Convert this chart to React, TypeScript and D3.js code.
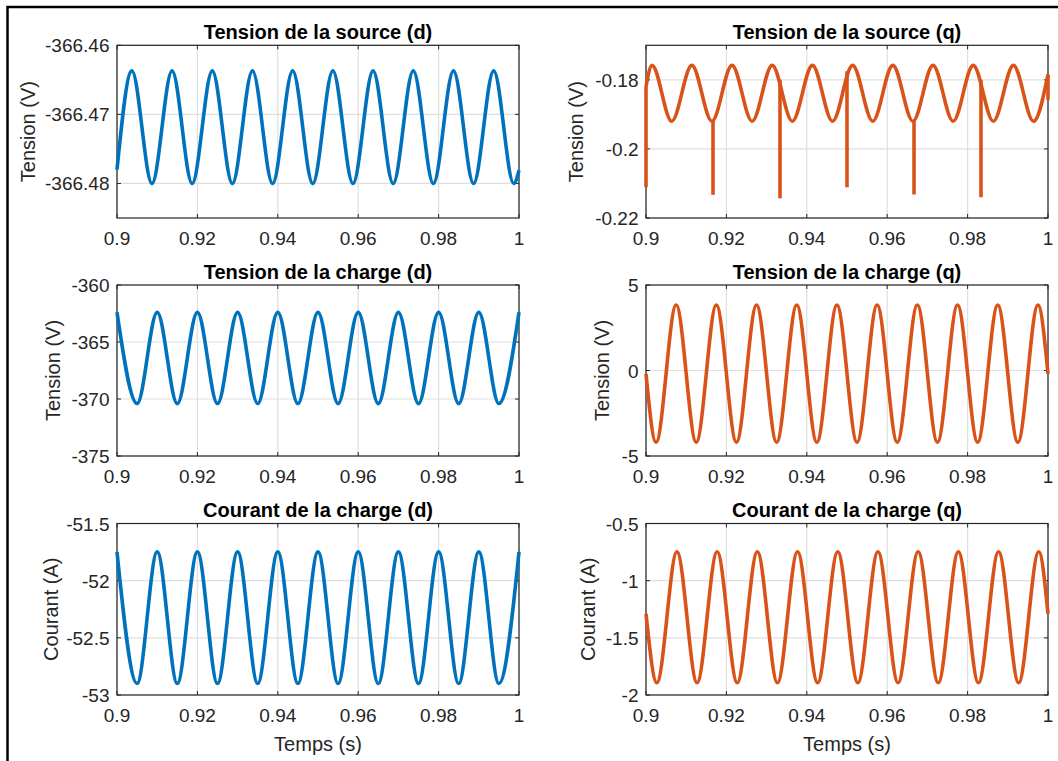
import React from 'react';
import * as d3 from 'd3';

// ---------- data ----------
const xTicks = [0.9, 0.92, 0.94, 0.96, 0.98, 1];
const xTickLabels = ['0.9', '0.92', '0.94', '0.96', '0.98', '1'];

// Tension de la source (d): extrema
const srcDTimes = [0.9, 0.9037, 0.9087, 0.9137, 0.9187, 0.9237, 0.9287, 0.9337, 0.9387, 0.9437, 0.9487, 0.9537, 0.9587, 0.9637, 0.9687, 0.9737, 0.9787, 0.9837, 0.9887, 0.9937, 0.9987, 1.0];
const srcDValues = [-366.4780, -366.4637, -366.4800, -366.4637, -366.4800, -366.4637, -366.4800, -366.4637, -366.4800, -366.4637, -366.4800, -366.4637, -366.4800, -366.4637, -366.4800, -366.4637, -366.4800, -366.4637, -366.4800, -366.4637, -366.4800, -366.4781];
const srcDTicks = [-366.48, -366.47, -366.46];
const srcDTickLabels = ['-366.48', '-366.47', '-366.46'];

// Tension de la source (q): extrema + spikes
const srcQTimes = [0.9, 0.9015, 0.9064, 0.9114, 0.9164, 0.9214, 0.9264, 0.9314, 0.9364, 0.9414, 0.9464, 0.9514, 0.9564, 0.9614, 0.9664, 0.9714, 0.9764, 0.9814, 0.9864, 0.9914, 0.9964, 1.0];
const srcQValues = [-0.1820, -0.1758, -0.1920, -0.1758, -0.1920, -0.1758, -0.1920, -0.1758, -0.1920, -0.1758, -0.1920, -0.1758, -0.1920, -0.1758, -0.1920, -0.1758, -0.1920, -0.1758, -0.1920, -0.1758, -0.1920, -0.1785];
const srcQSpikeTimes = [0.9, 0.91667, 0.93333, 0.95, 0.96667, 0.98333, 1.0];
const srcQSpikeTops = [-0.1820, -0.1915, -0.1800, -0.1775, -0.1918, -0.1800, -0.1785];
const srcQSpikeBottoms = [-0.2111, -0.2133, -0.2143, -0.2111, -0.2132, -0.2140, -0.1858];
const srcQTicks = [-0.22, -0.2, -0.18];
const srcQTickLabels = ['-0.22', '-0.2', '-0.18'];

// Tension de la charge (d)
const chgDTimes = [0.9, 0.905, 0.91, 0.915, 0.92, 0.925, 0.93, 0.935, 0.94, 0.945, 0.95, 0.955, 0.96, 0.965, 0.97, 0.975, 0.98, 0.985, 0.99, 0.995, 1.0];
const chgDValues = [-362.4, -370.4, -362.4, -370.4, -362.4, -370.4, -362.4, -370.4, -362.4, -370.4, -362.4, -370.4, -362.4, -370.4, -362.4, -370.4, -362.4, -370.4, -362.4, -370.4, -362.4];
const chgDTicks = [-375, -370, -365, -360];
const chgDTickLabels = ['-375', '-370', '-365', '-360'];

// Tension de la charge (q)
const chgQTimes = [0.9, 0.9025, 0.9075, 0.9125, 0.9175, 0.9225, 0.9275, 0.9325, 0.9375, 0.9425, 0.9475, 0.9525, 0.9575, 0.9625, 0.9675, 0.9725, 0.9775, 0.9825, 0.9875, 0.9925, 0.9975, 1.0];
const chgQValues = [-0.2, -4.2, 3.83, -4.2, 3.83, -4.2, 3.83, -4.2, 3.83, -4.2, 3.83, -4.2, 3.83, -4.2, 3.83, -4.2, 3.83, -4.2, 3.83, -4.2, 3.83, -0.2];
const chgQTicks = [-5, 0, 5];
const chgQTickLabels = ['-5', '0', '5'];

// Courant de la charge (d)
const curDTimes = [0.9, 0.905, 0.91, 0.915, 0.92, 0.925, 0.93, 0.935, 0.94, 0.945, 0.95, 0.955, 0.96, 0.965, 0.97, 0.975, 0.98, 0.985, 0.99, 0.995, 1.0];
const curDValues = [-51.748, -52.899, -51.748, -52.899, -51.748, -52.899, -51.748, -52.899, -51.748, -52.899, -51.748, -52.899, -51.748, -52.899, -51.748, -52.899, -51.748, -52.899, -51.748, -52.899, -51.748];
const curDTicks = [-53, -52.5, -52, -51.5];
const curDTickLabels = ['-53', '-52.5', '-52', '-51.5'];

// Courant de la charge (q)
const curQTimes = [0.9, 0.9027, 0.9077, 0.9127, 0.9177, 0.9227, 0.9277, 0.9327, 0.9377, 0.9427, 0.9477, 0.9527, 0.9577, 0.9627, 0.9677, 0.9727, 0.9777, 0.9827, 0.9877, 0.9927, 0.9977, 1.0];
const curQValues = [-1.289, -1.893, -0.747, -1.893, -0.747, -1.893, -0.747, -1.893, -0.747, -1.893, -0.747, -1.893, -0.747, -1.893, -0.747, -1.893, -0.747, -1.893, -0.747, -1.893, -0.747, -1.289];
const curQTicks = [-2, -1.5, -1, -0.5];
const curQTickLabels = ['-2', '-1.5', '-1', '-0.5'];

// ---------- layout / style ----------
const BLUE = '#0072BD';
const ORANGE = '#D95319';
const AXIS = '#262626';
const GRID = '#dfdfdf';
const FONT = '"Liberation Sans", Arial, Helvetica, sans-serif';

type Panel = {
  title: string;
  ylabel: string;
  xlabel?: string;
  times: number[];
  values: number[];
  domain: [number, number];
  ticks: number[];
  tickLabels: string[];
  color: string;
  x0: number; x1: number; y0: number; y1: number;
  ylabelX: number;
  spikes?: { t: number[]; top: number[]; bottom: number[] };
};

const COL_L: [number, number] = [117, 519];
const COL_R: [number, number] = [646, 1048];
const ROWS: [number, number][] = [[45.3, 218], [285, 456], [523.5, 695]];

const panels: Panel[] = [
  { title: 'Tension de la source (d)', ylabel: 'Tension (V)', times: srcDTimes, values: srcDValues, domain: [-366.485, -366.46], ticks: srcDTicks, tickLabels: srcDTickLabels, color: BLUE, x0: COL_L[0], x1: COL_L[1], y0: ROWS[0][0], y1: ROWS[0][1], ylabelX: 34.5 },
  { title: 'Tension de la source (q)', ylabel: 'Tension (V)', times: srcQTimes, values: srcQValues, domain: [-0.22, -0.17], ticks: srcQTicks, tickLabels: srcQTickLabels, color: ORANGE, x0: COL_R[0], x1: COL_R[1], y0: ROWS[0][0], y1: ROWS[0][1], ylabelX: 583, spikes: { t: srcQSpikeTimes, top: srcQSpikeTops, bottom: srcQSpikeBottoms } },
  { title: 'Tension de la charge (d)', ylabel: 'Tension (V)', times: chgDTimes, values: chgDValues, domain: [-375, -360], ticks: chgDTicks, tickLabels: chgDTickLabels, color: BLUE, x0: COL_L[0], x1: COL_L[1], y0: ROWS[1][0], y1: ROWS[1][1], ylabelX: 59.5 },
  { title: 'Tension de la charge (q)', ylabel: 'Tension (V)', times: chgQTimes, values: chgQValues, domain: [-5, 5], ticks: chgQTicks, tickLabels: chgQTickLabels, color: ORANGE, x0: COL_R[0], x1: COL_R[1], y0: ROWS[1][0], y1: ROWS[1][1], ylabelX: 608.5 },
  { title: 'Courant de la charge (d)', ylabel: 'Courant (A)', xlabel: 'Temps (s)', times: curDTimes, values: curDValues, domain: [-53, -51.5], ticks: curDTicks, tickLabels: curDTickLabels, color: BLUE, x0: COL_L[0], x1: COL_L[1], y0: ROWS[2][0], y1: ROWS[2][1], ylabelX: 58 },
  { title: 'Courant de la charge (q)', ylabel: 'Courant (A)', xlabel: 'Temps (s)', times: curQTimes, values: curQValues, domain: [-2, -0.5], ticks: curQTicks, tickLabels: curQTickLabels, color: ORANGE, x0: COL_R[0], x1: COL_R[1], y0: ROWS[2][0], y1: ROWS[2][1], ylabelX: 595 },
];

const TICK_LEN = 4;
const LINE_W = 3.6;

function PanelView({ p }: { p: Panel }) {
  const x = d3.scaleLinear().domain([0.9, 1.0]).range([p.x0, p.x1]);
  const y = d3.scaleLinear().domain(p.domain).range([p.y1, p.y0]);
  const pts: [number, number][] = p.times.map((t, i) => [t, p.values[i]]);
  const line = d3.line<[number, number]>().x(d => x(d[0])).y(d => y(d[1])).curve(d3.curveMonotoneX);
  const seg = d3.line<[number, number]>().x(d => x(d[0])).y(d => y(d[1]));
  const cx = (p.x0 + p.x1) / 2;
  const cy = (p.y0 + p.y1) / 2;
  return (
    <g>
      {xTicks.map((t, i) => (
        <line key={'gx' + i} x1={x(t)} x2={x(t)} y1={p.y0} y2={p.y1} stroke={GRID} strokeWidth={1.2} />
      ))}
      {p.ticks.map((t, i) => (
        <line key={'gy' + i} x1={p.x0} x2={p.x1} y1={y(t)} y2={y(t)} stroke={GRID} strokeWidth={1.2} />
      ))}
      <rect x={p.x0} y={p.y0} width={p.x1 - p.x0} height={p.y1 - p.y0} fill="none" stroke={AXIS} strokeWidth={1.2} />
      {xTicks.map((t, i) => (
        <g key={'tx' + i}>
          <line x1={x(t)} x2={x(t)} y1={p.y1} y2={p.y1 - TICK_LEN} stroke={AXIS} strokeWidth={1} />
          <line x1={x(t)} x2={x(t)} y1={p.y0} y2={p.y0 + TICK_LEN} stroke={AXIS} strokeWidth={1} />
          <text x={x(t)} y={p.y1 + 27} textAnchor="middle" fontSize={19} fill={AXIS} fontFamily={FONT}>{xTickLabels[i]}</text>
        </g>
      ))}
      {p.ticks.map((t, i) => (
        <g key={'ty' + i}>
          <line x1={p.x0} x2={p.x0 + TICK_LEN} y1={y(t)} y2={y(t)} stroke={AXIS} strokeWidth={1} />
          <line x1={p.x1} x2={p.x1 - TICK_LEN} y1={y(t)} y2={y(t)} stroke={AXIS} strokeWidth={1} />
          <text x={p.x0 - 7.5} y={y(t) + 7} textAnchor="end" fontSize={19} fill={AXIS} fontFamily={FONT}>{p.tickLabels[i]}</text>
        </g>
      ))}
      <path d={line(pts) || ''} fill="none" stroke={p.color} strokeWidth={LINE_W} strokeLinejoin="round" />
      {p.spikes && p.spikes.t.map((t, i) => (
        <path key={'sp' + i} d={seg([[t, p.spikes!.top[i]], [t, p.spikes!.bottom[i]]]) || ''} fill="none" stroke={p.color} strokeWidth={LINE_W} />
      ))}
      <text x={cx} y={p.y0 - 6.5} textAnchor="middle" fontSize={20} fontWeight="bold" fill="#000" fontFamily={FONT}>{p.title}</text>
      <text transform={`translate(${p.ylabelX},${cy}) rotate(-90)`} textAnchor="middle" fontSize={20} fill={AXIS} fontFamily={FONT}>{p.ylabel}</text>
      {p.xlabel && (
        <text x={cx} y={751} textAnchor="middle" fontSize={20} fill={AXIS} fontFamily={FONT}>{p.xlabel}</text>
      )}
    </g>
  );
}

export default function App() {
  return (
    <svg width={1058} height={761} style={{ position: 'absolute', left: 0, top: 0, background: '#fff' }}>
      <rect x={0} y={0} width={1058} height={761} fill="#fff" />
      <rect x={7.5} y={7} width={1200} height={1000} fill="none" stroke="#000" strokeWidth={2.5} />
      {panels.map((p, i) => <PanelView key={i} p={p} />)}
    </svg>
  );
}
